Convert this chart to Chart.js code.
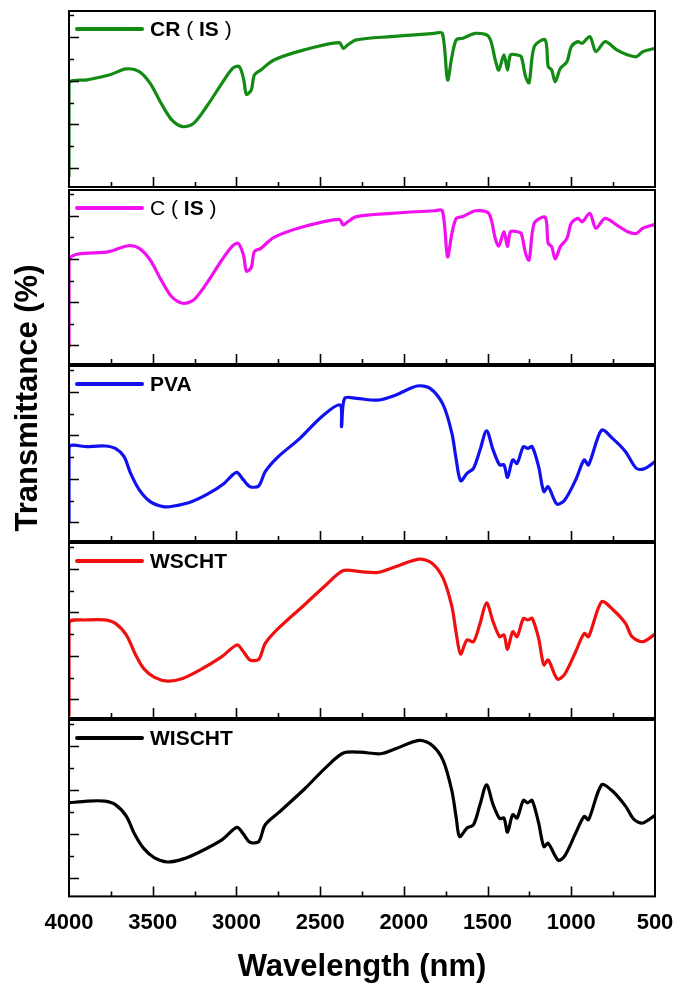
<!DOCTYPE html>
<html>
<head>
<meta charset="utf-8">
<script src="https://cdn.jsdelivr.net/npm/chart.js@4.4.1/dist/chart.umd.min.js"></script>
<style>
  body { margin: 0; background: #fff; }
  #wrap { position: relative; width: 682px; height: 990px; overflow: hidden; }
  #wrap canvas { position: absolute; left: 0; }
  #ytitle {
    position: absolute; left: -125px; top: 382px; width: 300px; height: 32px;
    line-height: 32px; text-align: center; transform: rotate(-90deg);
    font: bold 31px "Liberation Sans", Arial, sans-serif; color: #000;
  }
</style>
</head>
<body>
<div id="wrap">
  <canvas id="p1"></canvas>
  <canvas id="p2"></canvas>
  <canvas id="p3"></canvas>
  <canvas id="p4"></canvas>
  <canvas id="p5"></canvas>
  <div id="ytitle">Transmittance (%)</div>
</div>
<script>
// wavenumbers and transmittance
const wnCR = [4000, 4000, 3891, 3761, 3658, 3580, 3515, 3450, 3386, 3321, 3256, 3178, 3087, 3023, 2984, 2958, 2940, 2911, 2893, 2854, 2776, 2595, 2387, 2361, 2335, 2284, 2076, 1817, 1770, 1739, 1713, 1687, 1648, 1571, 1493, 1454, 1433, 1402, 1381, 1363, 1324, 1299, 1273, 1252, 1221, 1156, 1138, 1117, 1096, 1065, 1026, 1000, 961, 935, 889, 853, 798, 728, 663, 611, 573, 500];
const tCR = [16.0, 58.8, 60.4, 62.6, 65.4, 64.2, 58.8, 49.7, 42.1, 39.0, 40.5, 48.2, 58.8, 65.7, 66.5, 61.1, 53.8, 55.8, 62.6, 64.9, 69.5, 74.1, 77.4, 74.8, 76.4, 78.7, 80.2, 81.7, 81.7, 60.4, 71.0, 78.7, 79.4, 81.7, 80.2, 69.5, 64.9, 71.8, 64.9, 71.8, 71.8, 71.0, 61.9, 59.1, 75.6, 78.7, 66.5, 64.9, 59.6, 65.7, 68.7, 75.6, 77.9, 77.1, 80.2, 73.3, 77.9, 74.1, 71.8, 71.0, 73.3, 74.8];

const wnC = [4000, 4000, 3761, 3645, 3580, 3515, 3450, 3386, 3321, 3256, 3178, 3087, 3023, 2989, 2958, 2940, 2911, 2893, 2854, 2776, 2595, 2387, 2361, 2335, 2284, 2076, 1817, 1770, 1739, 1713, 1687, 1648, 1571, 1493, 1454, 1433, 1402, 1381, 1363, 1324, 1299, 1273, 1252, 1221, 1156, 1138, 1117, 1096, 1065, 1026, 1000, 961, 935, 889, 853, 798, 728, 663, 611, 573, 500];
const tC = [19.3, 59.8, 63.4, 66.1, 64.9, 59.5, 50.3, 42.5, 39.5, 41.0, 48.7, 59.5, 66.0, 67.2, 61.8, 54.4, 56.1, 63.4, 64.9, 70.0, 75.0, 78.3, 75.7, 77.2, 79.6, 81.1, 82.3, 82.3, 61.0, 71.8, 78.8, 79.6, 82.3, 81.1, 69.5, 66.0, 72.6, 65.7, 72.6, 72.6, 71.8, 62.6, 59.5, 76.5, 79.3, 67.2, 65.7, 60.0, 65.7, 69.5, 76.5, 78.8, 77.2, 81.1, 74.2, 78.8, 75.7, 72.6, 71.8, 74.2, 76.0];

const wnPVA = [4000, 4000, 3891, 3787, 3723, 3671, 3632, 3580, 3515, 3437, 3373, 3269, 3165, 3074, 3023, 2997, 2958, 2919, 2867, 2828, 2750, 2621, 2491, 2382, 2372, 2354, 2284, 2154, 2050, 1921, 1843, 1765, 1713, 1687, 1661, 1623, 1584, 1545, 1506, 1467, 1428, 1402, 1381, 1350, 1324, 1286, 1260, 1234, 1195, 1164, 1138, 1086, 1039, 974, 923, 897, 819, 754, 676, 611, 560, 500];
const tPVA = [20.1, 54.5, 54.8, 55.1, 54.0, 50.2, 42.5, 34.9, 29.5, 27.2, 27.5, 29.5, 33.3, 37.9, 41.8, 43.0, 39.5, 36.4, 36.7, 43.3, 50.2, 58.6, 68.6, 74.0, 64.0, 77.0, 77.0, 76.2, 78.5, 82.7, 81.6, 74.0, 60.9, 48.7, 39.1, 42.5, 44.8, 53.3, 62.1, 53.3, 46.4, 46.4, 40.7, 48.7, 47.1, 54.8, 54.0, 54.8, 45.6, 34.1, 36.4, 28.4, 30.3, 39.5, 48.7, 46.4, 62.4, 58.6, 52.5, 44.8, 44.8, 47.9];

const wnWSCHT = [4000, 4000, 3891, 3787, 3723, 3658, 3606, 3554, 3489, 3411, 3321, 3217, 3087, 2997, 2958, 2919, 2867, 2828, 2750, 2595, 2465, 2361, 2258, 2154, 2050, 1908, 1830, 1765, 1713, 1687, 1661, 1623, 1584, 1545, 1506, 1467, 1428, 1402, 1381, 1350, 1324, 1286, 1260, 1234, 1195, 1164, 1138, 1083, 1039, 974, 923, 897, 819, 754, 676, 637, 573, 500];
const tWSCHT = [12.3, 55.2, 56.5, 56.5, 54.9, 49.6, 41.1, 34.2, 30.1, 28.4, 29.6, 33.5, 39.6, 45.0, 41.9, 38.1, 38.4, 45.7, 52.6, 63.4, 72.6, 79.2, 78.7, 78.4, 81.0, 84.5, 82.5, 75.6, 62.6, 50.3, 40.8, 47.3, 46.5, 54.9, 64.4, 55.7, 48.8, 49.6, 43.0, 51.1, 48.8, 57.2, 56.5, 57.2, 48.0, 35.8, 38.1, 29.3, 31.6, 41.9, 50.3, 48.8, 64.9, 61.4, 54.9, 48.8, 46.5, 50.0];

const wnWISCHT = [4000, 3891, 3787, 3723, 3658, 3606, 3554, 3489, 3411, 3321, 3217, 3087, 2997, 2958, 2919, 2867, 2828, 2750, 2595, 2465, 2361, 2258, 2141, 2050, 1908, 1830, 1765, 1713, 1687, 1667, 1623, 1584, 1545, 1506, 1467, 1428, 1402, 1381, 1350, 1324, 1286, 1260, 1234, 1195, 1164, 1138, 1078, 1039, 974, 923, 897, 819, 754, 676, 624, 573, 500];
const tWISCHT = [54.1, 54.9, 54.9, 53.3, 48.0, 39.5, 33.3, 29.0, 27.1, 28.4, 31.8, 37.2, 42.9, 39.8, 36.1, 36.4, 44.1, 49.5, 60.3, 70.3, 76.8, 77.2, 76.5, 78.8, 82.6, 80.3, 73.4, 59.5, 47.2, 38.7, 42.6, 44.1, 53.3, 62.3, 53.3, 46.9, 47.2, 40.7, 48.7, 47.2, 55.2, 54.1, 55.2, 44.9, 34.1, 35.6, 27.9, 29.9, 40.2, 47.9, 46.4, 62.3, 59.5, 52.6, 46.4, 44.9, 48.4];

const labels = ['CR ( IS )', 'C ( IS )', 'PVA', 'WSCHT', 'WISCHT'];
const xTickValues = [500, 1000, 1500, 2000, 2500, 3000, 3500, 4000];
const xMinorValues = [750, 1250, 1750, 2250, 2750, 3250, 3750];
const yTickValues = [20, 30, 40, 50, 60, 70, 80, 90];

const FONT = '"Liberation Sans", Arial, sans-serif';

// frame, inward ticks and the in-panel legend
const panelDecor = {
  id: 'panelDecor',
  afterDatasetsDraw(chart, args, opts) {
    const { ctx, chartArea: a, scales: { x, y } } = chart;
    ctx.save();
    ctx.strokeStyle = '#000';
    ctx.lineWidth = 1.6;
    ctx.beginPath();
    xTickValues.concat(xMinorValues).forEach(v => {
      if (v === 4000 || v === 500) return;
      const px = Math.round(x.getPixelForValue(v)) + 0.5;
      const len = xTickValues.includes(v) ? 10 : 5;
      ctx.moveTo(px, a.bottom);
      ctx.lineTo(px, a.bottom - len);
    });
    yTickValues.forEach(v => {
      const py = Math.round(y.getPixelForValue(v)) + 0.5;
      const len = v % 20 === 0 ? 10 : 5;
      ctx.moveTo(a.left, py);
      ctx.lineTo(a.left + len, py);
    });
    ctx.stroke();
    ctx.lineWidth = 2;
    ctx.strokeRect(a.left, a.top, a.right - a.left, a.bottom - a.top);

    // legend
    const ds = chart.data.datasets[0];
    const ly = a.top + 18;
    ctx.strokeStyle = ds.borderColor;
    ctx.lineWidth = 4;
    ctx.lineCap = 'round';
    ctx.beginPath();
    ctx.moveTo(a.left + 8, ly);
    ctx.lineTo(a.left + 73, ly);
    ctx.stroke();
    ctx.fillStyle = '#000';
    ctx.textBaseline = 'middle';
    let tx = a.left + 81;
    opts.parts.forEach(p => {
      ctx.font = (p[1] ? 'bold ' : '') + '21px ' + FONT;
      ctx.fillText(p[0], tx, ly + 1);
      tx += ctx.measureText(p[0]).width;
    });
    ctx.restore();
  }
};

const panels = [
  { id: 'p1', top: 11, bottom: 187, wn: wnCR, t: tCR, color: '#138a13',
    parts: [['CR ', 1], ['( ', 0], ['IS', 1], [' )', 0]] },
  { id: 'p2', top: 190, bottom: 364, wn: wnC, t: tC, color: '#f010f0',
    parts: [['C ( ', 0], ['IS', 1], [' )', 0]] },
  { id: 'p3', top: 366, bottom: 541, wn: wnPVA, t: tPVA, color: '#1010f0',
    parts: [['PVA', 1]] },
  { id: 'p4', top: 543, bottom: 718, wn: wnWSCHT, t: tWSCHT, color: '#f01010',
    parts: [['WSCHT', 1]] },
  { id: 'p5', top: 720, bottom: 894, wn: wnWISCHT, t: tWISCHT, color: '#000000',
    parts: [['WISCHT', 1]] }
];

panels.forEach((p, i) => {
  const last = i === panels.length - 1;
  const canvas = document.getElementById(p.id);
  const padTop = 4;
  canvas.width = 682;
  canvas.height = last ? 990 - (p.top - padTop) : (p.bottom - p.top) + 8;
  canvas.style.top = (p.top - padTop) + 'px';

  new Chart(canvas, {
    type: 'line',
    data: {
      datasets: [{
        label: labels[i],
        data: p.wn.map((w, k) => ({ x: w, y: p.t[k] })),
        borderColor: p.color,
        borderWidth: 3.2,
        pointRadius: 0,
        tension: 0.3,
        borderJoinStyle: 'round',
        fill: false
      }]
    },
    options: {
      responsive: false,
      animation: false,
      layout: { padding: { top: padTop, bottom: last ? 0 : 4, left: 69, right: 27 } },
      plugins: {
        legend: { display: false },
        tooltip: { enabled: false },
        panelDecor: { parts: p.parts }
      },
      scales: {
        x: {
          type: 'linear',
          min: 500, max: 4000,
          reverse: true,
          display: last,
          afterBuildTicks: s => { s.ticks = xTickValues.map(v => ({ value: v })); },
          grid: { display: false, drawTicks: false },
          border: { display: false },
          ticks: {
            autoSkip: false, maxRotation: 0, padding: 13,
            color: '#000', font: { family: FONT, size: 22, weight: 'bold' },
            callback: v => String(v)
          },
          title: {
            display: true, text: 'Wavelength (nm)', color: '#000',
            font: { family: FONT, size: 31, weight: 'bold' },
            padding: { top: 0, bottom: 4 }
          }
        },
        y: {
          min: 11.4, max: 91.9,
          display: false
        }
      }
    },
    plugins: [panelDecor]
  });
});
</script>
</body>
</html>
